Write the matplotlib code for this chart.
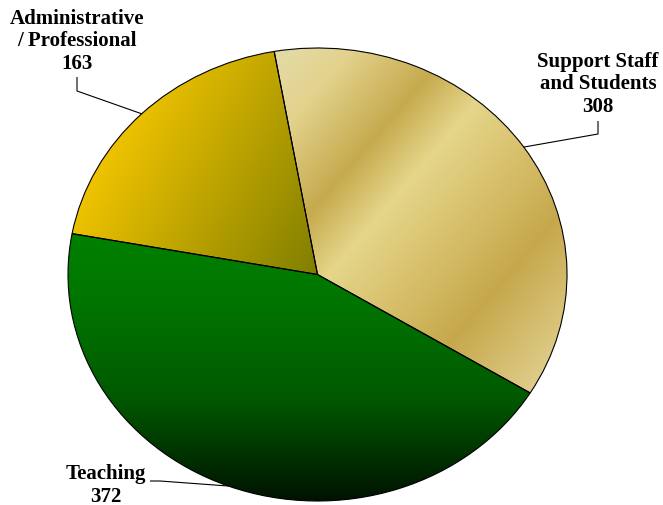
import numpy as np
import matplotlib.pyplot as plt

labels = ["Support Staff\nand Students", "Teaching", "Administrative\n/ Professional"]
counts = [308, 372, 163]

W, H = 663, 506
# pie ellipse in pixel space: centre and radii
CX, CY, RX, RY = 317.5, 275.5, 249.5, 226.5
XMIN, XMAX = -CX / RX, (W - CX) / RX
YMIN, YMAX = -(H - CY) / RY, CY / RY


def px(x, y):
    # pixel position (origin top-left) -> data coordinates
    return XMIN + x / W * (XMAX - XMIN), YMAX - y / H * (YMAX - YMIN)


def ramp(t, stops, colors):
    colors = np.asarray(colors, float) / 255.0
    return np.stack([np.interp(t, stops, colors[:, k]) for k in range(3)], axis=-1)


yy, xx = np.mgrid[0:H, 0:W].astype(float)

# metallic gold bands running diagonally
p = xx * 0.759 + yy * 0.651
gold = ramp(p, [250, 300, 374, 428, 500, 565, 660],
            [(228, 218, 165), (226, 210, 140), (198, 170, 78), (229, 214, 138),
             (214, 190, 105), (198, 168, 76), (224, 206, 140)])

# green fading to black towards the bottom
green = ramp(yy, [236, 300, 400, 502],
             [(0, 128, 0), (0, 118, 0), (0, 88, 0), (0, 18, 0)])

# gold to olive along the diagonal
q = xx * 0.87 + yy * 0.49
olive = ramp(q, [170, 410], [(238, 194, 0), (128, 126, 0)])

fills = [gold, green, olive]

fig = plt.figure(figsize=(W / 100, H / 100), dpi=100)
ax = fig.add_axes([0, 0, 1, 1])

wedges, _ = ax.pie(counts, startangle=100, counterclock=False, radius=1,
                   wedgeprops=dict(edgecolor="black", linewidth=0.8,
                                   facecolor="none", zorder=3))
ax.set_aspect("auto")
ax.set_xlim(XMIN, XMAX)
ax.set_ylim(YMIN, YMAX)
ax.axis("off")

for w, img in zip(wedges, fills):
    im = ax.imshow(img, extent=(XMIN, XMAX, YMIN, YMAX), origin="upper",
                   interpolation="bilinear", zorder=1, aspect="auto")
    im.set_clip_path(w)

font = dict(family="Liberation Serif", fontweight="bold", fontsize=15,
            ha="center", va="baseline", linespacing=1.18)

# baseline of the last label line (pixels) and leader elbow points
label_pos = [(598, 112), (106, 502), (77, 69)]
elbows = [[(598, 122), (598, 135)], [(150, 482), (160, 482)], [(77, 78), (77, 92)]]

for w, lab, n, pos, elb in zip(wedges, labels, counts, label_pos, elbows):
    ang = np.deg2rad((w.theta1 + w.theta2) / 2)
    tip = (np.cos(ang), np.sin(ang))
    pts = [px(*e) for e in elb] + [tip]
    ax.plot([a for a, b in pts], [b for a, b in pts], color="black", lw=0.8,
            zorder=4, solid_capstyle="butt")
    ax.text(*px(*pos), f"{lab}\n{n}", **font)

fig.savefig("out.png", dpi=100)
plt.close(fig)
